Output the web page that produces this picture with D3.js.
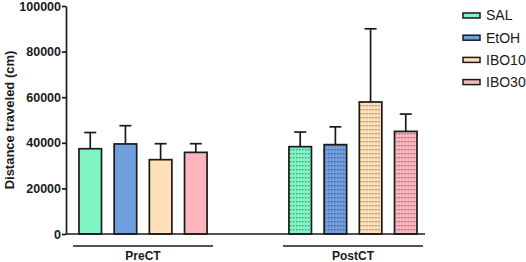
<!DOCTYPE html>
<meta charset="utf-8" />
<head>
  <style>
    body { margin: 0; background: #fff; }
    svg text { font-family: "Liberation Sans", Arial, sans-serif; }
    .y-axis .domain, .y-axis line { stroke: #1a1a1a; stroke-width: 1.7; }
    .y-axis text { font-weight: 700; font-size: 12.5px; fill: #1a1a1a; }
  </style>
</head>
<script src="https://d3js.org/d3.v7.min.js"></script>
<body>
  <svg id="chart"></svg>
  <script>
    // grouped bars with upper error bars; PostCT bars are dotted
    const groups = ["PreCT", "PostCT"];
    const series = ["SAL", "EtOH", "IBO10", "IBO30"];
    const colors = ["#80f5c4", "#709fe0", "#ffe0b6", "#ffb4be"];
    const preMeans = [37400, 39500, 32600, 35800];
    const preErr = [7100, 8000, 7000, 3800];
    const postMeans = [38300, 39200, 57900, 45000];
    const postErr = [6400, 7800, 32100, 7600];
    const yTicks = [0, 20000, 40000, 60000, 80000, 100000];

    const svgWidth = 526, svgHeight = 262;
    const margin = { left: 66, right: 101, top: 6, bottom: 28 };

    const svg = d3.select("#chart")
      .attr("width", svgWidth)
      .attr("height", svgHeight);

    const rows = [];
    groups.forEach((g, gi) => {
      const means = gi === 0 ? preMeans : postMeans;
      const errs = gi === 0 ? preErr : postErr;
      series.forEach((s, si) => rows.push({ group: g, series: s, mean: means[si], err: errs[si], idx: si }));
    });

    ////////// scales //////////
    const y = d3.scaleLinear().domain([0, 100000]).range([svgHeight - margin.bottom, margin.top]);
    const x0 = d3.scaleBand().domain(groups).range([73, 423]).paddingInner(0.333);
    const x1 = d3.scaleBand().domain(series).range([0, x0.bandwidth()])
      .paddingInner(0.36).paddingOuter(0.17);

    ////////// dotted patterns //////////
    const defs = svg.append("defs");
    colors.forEach((c, i) => {
      const p = defs.append("pattern")
        .attr("id", "dots" + i)
        .attr("patternUnits", "userSpaceOnUse")
        .attr("width", 3).attr("height", 4);
      p.append("rect").attr("width", 3).attr("height", 4).attr("fill", c);
      p.append("rect").attr("x", 1).attr("y", 1).attr("width", 1.4).attr("height", 1.3)
        .attr("fill", d3.color(c).darker(1.6));
    });

    ////////// y axis //////////
    svg.append("g")
      .attr("class", "y-axis")
      .attr("transform", `translate(${margin.left},0)`)
      .call(d3.axisLeft(y).tickValues(yTicks).tickSize(4).tickSizeOuter(0).tickFormat(d3.format("d")))
      .call(g => g.selectAll("text").attr("x", -5));

    svg.append("text")
      .attr("transform", `translate(14,${(y(0) + y(100000)) / 2}) rotate(-90)`)
      .attr("text-anchor", "middle")
      .attr("font-size", "13px")
      .attr("font-weight", 700)
      .attr("fill", "#1a1a1a")
      .text("Distance traveled (cm)");

    ////////// bars //////////
    const bar = svg.append("g").selectAll("g")
      .data(rows)
      .join("g")
      .attr("transform", d => `translate(${x0(d.group) + x1(d.series)},0)`);

    // error whisker (upper only)
    bar.append("line")
      .attr("x1", x1.bandwidth() / 2).attr("x2", x1.bandwidth() / 2)
      .attr("y1", d => y(d.mean)).attr("y2", d => y(d.mean + d.err))
      .attr("stroke", "#1a1a1a").attr("stroke-width", 1.7);
    bar.append("line")
      .attr("x1", x1.bandwidth() / 2 - 6).attr("x2", x1.bandwidth() / 2 + 6)
      .attr("y1", d => y(d.mean + d.err)).attr("y2", d => y(d.mean + d.err))
      .attr("stroke", "#1a1a1a").attr("stroke-width", 1.7);

    bar.append("rect")
      .attr("y", d => y(d.mean))
      .attr("width", x1.bandwidth())
      .attr("height", d => y(0) - y(d.mean))
      .attr("fill", d => d.group === "PostCT" ? `url(#dots${d.idx})` : colors[d.idx])
      .attr("stroke", "#1a1a1a")
      .attr("stroke-width", 1.7);

    // baseline
    svg.append("line")
      .attr("x1", margin.left).attr("x2", 425)
      .attr("y1", y(0)).attr("y2", y(0))
      .attr("stroke", "#1a1a1a").attr("stroke-width", 1.7);

    ////////// group brackets //////////
    groups.forEach(g => {
      svg.append("line")
        .attr("x1", x0(g)).attr("x2", x0(g) + x0.bandwidth())
        .attr("y1", 246).attr("y2", 246)
        .attr("stroke", "#1a1a1a").attr("stroke-width", 1.7);
      svg.append("text")
        .attr("x", x0(g) + x0.bandwidth() / 2)
        .attr("y", 260)
        .attr("text-anchor", "middle")
        .attr("font-size", "12px")
        .attr("font-weight", 700)
        .attr("fill", "#1a1a1a")
        .text(g);
    });

    ////////// legend //////////
    const legend = svg.append("g").selectAll("g")
      .data(series)
      .join("g")
      .attr("transform", (d, i) => `translate(463,${15.5 + i * 22.2})`);
    legend.append("rect")
      .attr("y", -2.5).attr("width", 17).attr("height", 5)
      .attr("fill", (d, i) => colors[i])
      .attr("stroke", "#1a1a1a").attr("stroke-width", 1.5);
    legend.append("text")
      .attr("x", 23).attr("dy", "0.35em")
      .attr("font-size", "14px")
      .attr("fill", "#1a1a1a")
      .text(d => d);
  </script>
</body>
